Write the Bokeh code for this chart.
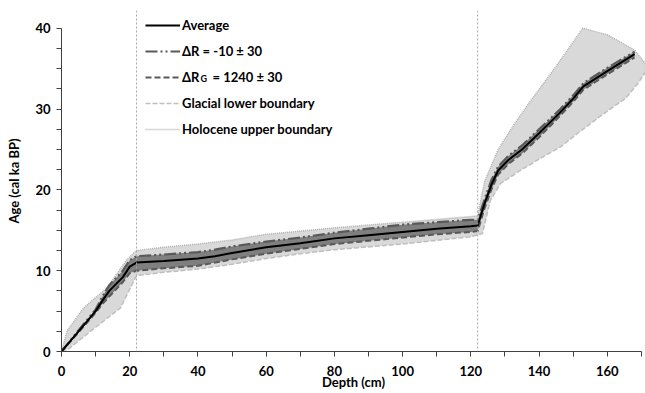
from bokeh.plotting import figure
from bokeh.models import FixedTicker, Span, Legend, LegendItem, Label, Range1d
from bokeh.embed import file_html
from bokeh.resources import INLINE

# ---- data ----
depth = [0, 4, 10, 12, 14, 18, 20, 22, 30, 40, 45, 50, 60, 70, 80, 90, 100, 110, 120, 122,
         124, 126, 128, 131, 135, 140, 146, 150, 153, 160, 168]
average = [0, 2.0, 5.0, 6.3, 7.5, 9.2, 10.5, 11.0, 11.2, 11.5, 11.8, 12.2, 12.9, 13.4, 14.0, 14.4,
           14.8, 15.2, 15.5, 15.6, 18.3, 20.6, 22.4, 23.7, 25.0, 27.0, 29.5, 31.3, 32.8, 34.7, 36.8]
dR_upper = [0, 2.1, 5.2, 6.8, 8.2, 10.0, 11.3, 11.8, 12.0, 12.3, 12.6, 13.0, 13.6, 14.1, 14.7, 15.2,
            15.7, 16.0, 16.3, 16.3, 18.8, 21.2, 22.9, 24.2, 25.5, 27.5, 29.9, 31.7, 33.2, 35.1, 37.1]
dRG_lower = [0, 1.9, 4.8, 5.9, 6.8, 8.6, 9.7, 10.0, 10.3, 10.6, 11.0, 11.4, 12.1, 12.7, 13.3, 13.7,
             14.1, 14.5, 14.8, 14.9, 17.7, 20.0, 21.9, 23.2, 24.5, 26.5, 29.1, 30.9, 32.4, 34.3, 36.4]

holo_depth = [0, 1.7, 6.5, 13.4, 19.2, 22, 30, 40, 50, 60, 80, 100, 120, 122, 124, 128, 133,
              138, 145, 152.8, 160, 163, 168, 171.2]
holo_upper = [0, 2.6, 5.4, 7.9, 11.4, 12.5, 12.9, 13.3, 13.8, 14.5, 15.3, 16.0, 16.7, 16.8, 21.0,
              25.0, 28.3, 31.3, 35.3, 40.0, 39.2, 38.5, 37.3, 35.6]

glac_depth = [0, 2, 10, 17.3, 18.8, 22, 30, 40, 50, 60, 70, 80, 100, 120, 123.4, 125.7, 128.7,
              134.5, 140.4, 146.2, 152.2, 159.5, 165.3, 169, 171.2]
glac_lower = [0, 0.3, 3.0, 5.4, 6.7, 9.4, 9.8, 10.2, 10.8, 11.5, 12.1, 12.6, 13.3, 14.2, 14.6,
              18.7, 20.8, 22.4, 23.9, 25.3, 27.3, 29.6, 31.3, 33.2, 34.6]

boundaries = [22, 122]
x_major = [0, 20, 40, 60, 80, 100, 120, 140, 160]
x_minor = [10, 30, 50, 70, 90, 110, 130, 150, 170]
y_major = [0, 10, 20, 30, 40]
y_minor = [2.5, 5, 7.5, 12.5, 15, 17.5, 22.5, 25, 27.5, 32.5, 35, 37.5]

FONT = "Lato"

p = figure(width=645, height=393, output_backend="svg", toolbar_location=None,
           x_range=Range1d(0, 171.2), y_range=Range1d(0, 42.2),
           min_border_left=61, min_border_right=0, min_border_top=10, min_border_bottom=42)
p.outline_line_color = None
p.xgrid.visible = False
p.ygrid.visible = False

# light band
p.patch(holo_depth + glac_depth[::-1], holo_upper + glac_lower[::-1],
        fill_color="#d9d9d9", line_color=None)
r_holo = p.line(holo_depth, holo_upper, line_color="#b0b0b0", line_width=1.5, line_dash="1 1")
r_glac = p.line(glac_depth, glac_lower, line_color="#bfbfbf", line_width=1.5, line_dash="5 2")

# dark band
p.patch(depth + depth[::-1], dR_upper + dRG_lower[::-1], fill_color="#7f7f7f", line_color=None)
r_dR = p.line(depth, dR_upper, line_color="#595959", line_width=2.2, line_dash="12 3 2 3 2 3")
r_dRG = p.line(depth, dRG_lower, line_color="#595959", line_width=2.0, line_dash="6 3")
r_avg = p.line(depth, average, line_color="black", line_width=2.0)

for b in boundaries:
    p.add_layout(Span(location=b, dimension="height", line_color="#a6a6a6",
                      line_width=1, line_dash="2 2"))

# axes
for ax in (p.xaxis[0], p.yaxis[0]):
    ax.axis_line_color = "#404040"
    ax.major_tick_line_color = "#404040"
    ax.minor_tick_line_color = "#404040"
    ax.major_tick_in = 0
    ax.major_tick_out = 5
    ax.minor_tick_in = 0
    ax.minor_tick_out = 5
    ax.major_label_text_font = FONT
    ax.major_label_text_font_style = "bold"
    ax.major_label_text_font_size = "13px"
    ax.major_label_text_color = "black"
    ax.axis_label_text_font = FONT
    ax.axis_label_text_font_style = "bold"
    ax.axis_label_text_font_size = "13px"
    ax.axis_label_text_color = "black"

p.xaxis.ticker = FixedTicker(ticks=x_major, minor_ticks=x_minor)
p.yaxis.ticker = FixedTicker(ticks=y_major, minor_ticks=y_minor)
p.xaxis.bounds = (0, 170)
p.yaxis.bounds = (0, 40)
p.xaxis.axis_label = "Depth (cm)"
p.yaxis.axis_label = "Age (cal ka BP)"
p.xaxis.major_label_standoff = 9
p.xaxis.axis_label_standoff = -5
p.yaxis.major_label_standoff = 6
p.yaxis.axis_label_standoff = 10

legend = Legend(items=[
    LegendItem(label="Average", renderers=[r_avg]),
    LegendItem(label="ΔR = -10 ± 30", renderers=[r_dR]),
    LegendItem(label="ΔR\u2002\u2002= 1240 ± 30", renderers=[r_dRG]),
    LegendItem(label="Glacial lower boundary", renderers=[r_glac]),
    LegendItem(label="Holocene upper boundary", renderers=[r_holo]),
], location=(84, 212), padding=0, margin=0, spacing=6, label_height=20, glyph_height=20,
    glyph_width=35, label_standoff=2, border_line_color=None, background_fill_alpha=0,
    label_text_font=FONT, label_text_font_style="bold", label_text_font_size="13px",
    label_text_color="black")
p.add_layout(legend)

p.add_layout(Label(x=139, y=268, x_units="screen", y_units="screen", text="G",
                   text_font=FONT, text_font_style="bold", text_font_size="9px",
                   text_color="black"))

open("out.html", "w").write(file_html(p, INLINE))
